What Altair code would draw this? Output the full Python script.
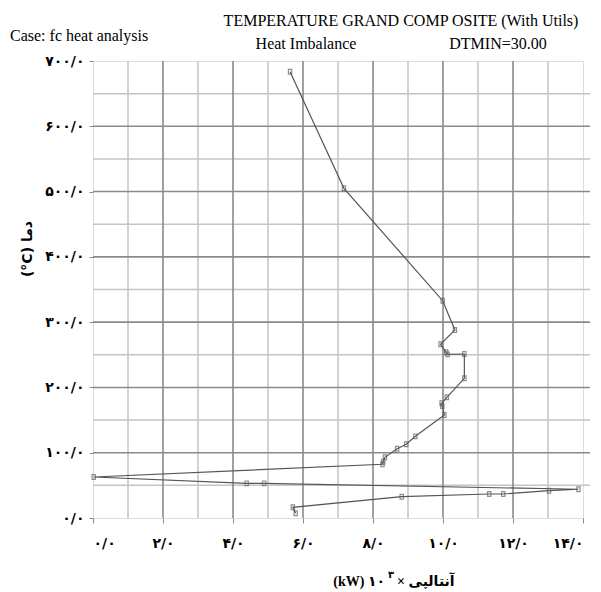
import json
import altair as alt
import pandas as pd

# ---- data ----
enthalpy = [5.63, 7.17, 9.99, 10.34, 9.93, 10.09, 10.13, 10.61, 10.61, 10.11,
            9.96, 9.98, 10.04, 9.21, 8.95, 8.69, 8.34, 8.29, 8.27, 0.02,
            4.39, 4.89, 13.87, 13.03, 11.72, 11.32, 8.82, 5.71, 5.79]
temperature = [683.6, 505.0, 332.8, 288.0, 266.1, 253.8, 250.7, 251.2, 214.0, 184.9,
               175.7, 171.5, 157.8, 125.1, 112.9, 106.1, 93.0, 86.2, 82.3, 62.8,
               53.1, 53.1, 44.0, 41.8, 36.8, 36.8, 32.6, 16.4, 7.2]

x_ticks = [0, 2, 4, 6, 8, 10, 12, 14]
x_labels = ["۰/۰", "۲/۰", "۴/۰", "۶/۰", "۸/۰", "۱۰/۰", "۱۲/۰", "۱۴/۰"]
y_ticks = [0, 100, 200, 300, 400, 500, 600, 700]
y_labels = ["۰/۰", "۱۰۰/۰", "۲۰۰/۰", "۳۰۰/۰", "۴۰۰/۰", "۵۰۰/۰", "۶۰۰/۰", "۷۰۰/۰"]
x_minor = [1, 3, 5, 7, 9, 11, 13]
x_major = [2, 4, 6, 8, 10, 12]
y_minor = [50, 150, 250, 350, 450, 550, 650]
y_major = [100, 200, 300, 400, 500, 600]

title_main = "TEMPERATURE GRAND COMP OSITE (With Utils)"
title_case = "Case: fc heat analysis"
title_sub1 = "Heat Imbalance"
title_sub2 = "DTMIN=30.00"
y_title = "(°C) دما"
x_title_left = "(kW) ۱۰"
x_title_sup = "۳"
x_title_right = "× آنتالپی"

df = pd.DataFrame({"h": enthalpy, "t": temperature, "order": list(range(len(enthalpy)))})

xs = alt.Scale(domain=[0, 14], nice=False, zero=False)
ys = alt.Scale(domain=[0, 700], nice=False, zero=False)

serif = "Liberation Serif, DejaVu Sans"
persian = "DejaVu Sans"

x_expr = f"datum.value % 2 == 0 ? {json.dumps(x_labels, ensure_ascii=False)}[round(datum.value/2)] : ''"
y_expr = f"{json.dumps(y_labels, ensure_ascii=False)}[round(datum.value/100)]"

def vrules(vals, color, w):
    return alt.Chart(pd.DataFrame({"v": vals})).mark_rule(color=color, strokeWidth=w).encode(
        x=alt.X("v:Q", scale=xs))

def hrules(vals, color, w):
    return alt.Chart(pd.DataFrame({"v": vals})).mark_rule(color=color, strokeWidth=w).encode(
        y=alt.Y("v:Q", scale=ys), x=alt.value(0), x2=alt.value(497))

grid = alt.layer(
    vrules(x_minor, "#c4c4c4", 1.5),
    hrules(y_minor, "#c4c4c4", 1.5),
    vrules(x_major, "#8a8a8a", 1.6),
    hrules(y_major, "#8a8a8a", 1.6),
)

base = alt.Chart(df).encode(
    x=alt.X("h:Q", scale=xs, title=None,
            axis=alt.Axis(values=list(range(0, 15)), labelExpr=x_expr, grid=False, domain=False,
                          tickColor="#8a8a8a", tickSize=5, labelPadding=13, labelFont=persian,
                          labelFontWeight="bold", labelFontSize=14, labelColor="black")),
    y=alt.Y("t:Q", scale=ys, title=None,
            axis=alt.Axis(values=y_ticks, labelExpr=y_expr, grid=False, domain=False,
                          tickColor="#8a8a8a", tickSize=4, labelPadding=5, labelFont=persian,
                          labelFontWeight="bold", labelFontSize=14, labelColor="black")),
    order="order:Q",
)

line = base.mark_line(color="#555555", strokeWidth=1.2)
pts = base.mark_point(shape="M-0.7,-1L0.7,-1L0.7,1L-0.7,1Z", size=22, filled=False,
                      stroke="#606060", strokeWidth=1.2)

def txt(s, x, y, size=16, font=serif, align="center", weight="normal", angle=0, baseline="middle"):
    kw = dict(text=s, font=font, fontSize=size, align=align, fontWeight=weight,
              baseline=baseline, color="black")
    if angle:
        kw["angle"] = angle
    return alt.Chart(pd.DataFrame({"a": [0]})).mark_text(**kw).encode(
        x=alt.value(x), y=alt.value(y))

texts = alt.layer(
    txt(title_main, 308, -40),
    txt(title_case, -83, -25, align="left"),
    txt(title_sub1, 213, -17),
    txt(title_sub2, 405, -17),
    txt(y_title, -65, 188, size=14, font=persian, weight="bold", angle=270),
    txt(x_title_left, 292, 521, size=14, font=serif, weight="bold", align="right"),
    txt(x_title_sup, 298, 514, size=10, font=persian, weight="bold"),
    txt(x_title_right, 304, 521, size=14, font=serif, weight="bold", align="left"),
)

chart = alt.layer(grid, line, pts, texts).properties(
    width=490, height=457,
    autosize=alt.AutoSizeParams(type="none"),
    padding={"left": 85, "top": 53, "right": 10, "bottom": 74},
).configure_view(stroke="black", strokeWidth=2).configure(background="white")

chart.save("out.html", embed_options={"renderer": "svg", "actions": False})
